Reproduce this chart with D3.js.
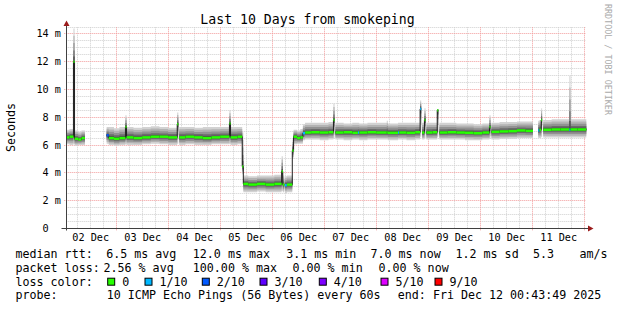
<!DOCTYPE html>
<html><head><meta charset="utf-8">
<script src="https://cdn.jsdelivr.net/npm/d3@7"></script>
<style>
html,body{margin:0;padding:0;background:#fff;}
svg{display:block;font-family:"DejaVu Sans Mono",monospace;}
text{white-space:pre;}
</style></head><body>
<svg id="chart" width="617" height="310"></svg>
<script>
// ---------- data ----------
const title = "Last 10 Days from smokeping";
const yAxisTitle = "Seconds";
const watermark = "RRDTOOL / TOBI OETIKER";
const startTime = new Date(2025, 11, 2, 0, 43, 49);
const endTime = new Date(2025, 11, 12, 0, 43, 49);

const yTickValues = [0, 2, 4, 6, 8, 10, 12, 14];
const yTickLabels = ["0", "2 m", "4 m", "6 m", "8 m", "10 m", "12 m", "14 m"];
const xTickDays = [2, 3, 4, 5, 6, 7, 8, 9, 10, 11];
const xTickLabels = ["02 Dec", "03 Dec", "04 Dec", "05 Dec", "06 Dec", "07 Dec", "08 Dec", "09 Dec", "10 Dec", "11 Dec"];

// samples: hours after start, median rtt (ms), smoke low / high (ms), loss (tenths)
const sampleHours = [
  0, 1.5, 3.3, 3.8, 5.5, 7.0, 8.6,
  18.6, 19.6, 22, 24.5, 27.3, 27.8, 31, 35, 39, 43, 47, 51.2,
  51.7, 52.1, 55, 59, 63, 67, 71, 75.3, 75.8, 79, 81.2, 81.7,
  84, 88, 92, 96, 99.4, 99.9, 100.6, 100.9, 101.8, 104.3, 104.9, 106.5, 108, 109.2, 110.2,
  113, 117, 121, 123.3, 123.8, 124.2, 128, 132, 134.6, 135.2, 139, 143, 147.9, 148.4,
  153.1, 153.6, 157, 161, 163.3, 163.8, 164.2, 165.3, 165.8, 166.2, 169, 171.2, 171.7, 172.2,
  176, 180, 184, 188, 192, 195.3, 195.8, 196.2, 200, 204, 208, 212,
  215.4, 217.8, 218.4, 219.2, 219.6, 220.1, 224, 228, 232.2, 232.7, 236
];
const medianMs = [
  6.55, 6.6, 12.0, 6.45, 6.4, 6.5, null,
  6.7, 6.5, 6.45, 6.5, 7.3, 6.55, 6.5, 6.55, 6.6, 6.6, 6.55, 7.5,
  null, 6.55, 6.6, 6.55, 6.5, 6.55, 6.6, 7.55, 6.55, 6.6, 4.45, 3.2,
  3.15, 3.2, 3.15, 3.2, 4.1, 3.15, null, 3.1, 3.15, 5.6, 6.6, 6.5, 6.55, 6.85, 6.9,
  6.92, 6.9, 6.92, 7.8, null, 6.9, 6.92, 6.88, 6.9, 6.9, 6.92, 6.9, 6.9, 6.88,
  6.9, 6.9, 6.88, 6.92, 8.6, null, 6.9, 7.8, null, 6.9, 6.92, 8.5, null, 6.9,
  6.92, 6.9, 6.88, 6.85, 6.9, 7.3, null, 6.95, 6.98, 7.0, 7.05, 7.02,
  null, 7.05, 7.1, 7.8, null, 7.1, 7.12, 7.12, 7.1, 7.12, 7.12
];
const smokeLowMs = [
  6.05, 6.0, 6.1, 5.95, 6.0, 6.0, null,
  6.1, 6.0, 5.95, 6.0, 6.05, 6.0, 6.0, 6.05, 6.1, 6.05, 6.0, 6.1,
  null, 6.0, 6.05, 6.0, 6.0, 6.05, 6.05, 6.1, 6.0, 6.05, 3.9, 2.6,
  2.6, 2.65, 2.6, 2.6, 2.7, 2.6, null, 2.55, 2.6, 5.0, 6.05, 6.1, 6.1, 6.35, 6.4,
  6.4, 6.35, 6.4, 6.45, null, 6.4, 6.35, 6.4, 6.4, 6.35, 6.4, 6.4, 6.4, 6.35,
  6.4, 6.4, 6.35, 6.4, 6.6, null, 6.4, 6.5, null, 6.4, 6.4, 6.6, null, 6.4,
  6.4, 6.4, 6.35, 6.35, 6.4, 6.45, null, 6.4, 6.45, 6.45, 6.5, 6.5,
  null, 6.5, 6.5, 6.6, null, 6.55, 6.55, 6.55, 6.55, 6.55, 6.55
];
const smokeHighMs = [
  7.1, 7.15, 14.4, 7.05, 6.95, 7.05, null,
  7.3, 7.3, 7.2, 7.3, 8.15, 7.3, 7.25, 7.3, 7.35, 7.3, 7.25, 8.35,
  null, 7.3, 7.3, 7.25, 7.3, 7.3, 7.3, 8.5, 7.3, 7.3, 6.9, 3.8,
  3.75, 3.8, 3.8, 3.85, 5.2, 3.8, null, 3.75, 3.8, 6.4, 7.1, 7.05, 7.15, 7.5, 7.6,
  7.6, 7.6, 7.65, 9.0, null, 7.6, 7.55, 7.6, 7.6, 7.55, 7.6, 7.6, 7.75, 7.55,
  7.6, 7.6, 7.6, 7.6, 9.2, null, 7.6, 8.65, null, 7.6, 7.6, 8.6, null, 7.6,
  7.6, 7.55, 7.55, 7.5, 7.55, 8.15, null, 7.6, 7.65, 7.65, 7.7, 7.7,
  null, 7.75, 7.8, 8.65, null, 7.8, 7.85, 7.85, 11.0, 7.85, 7.85
];
const lossTenths = [
  0, 0, 0, 0, 0, 0, 0,
  2, 0, 0, 0, 0, 0, 0, 0, 0, 0, 0, 0,
  0, 0, 0, 0, 0, 0, 0, 0, 0, 0, 0, 0,
  0, 0, 0, 0, 0, 0, 0, 1, 0, 0, 0, 0, 0, 1, 0,
  0, 0, 0, 0, 0, 0, 0, 0, 1, 0, 0, 0, 0, 0,
  1, 0, 0, 0, 1, 0, 0, 0, 0, 0, 0, 0, 0, 0,
  0, 0, 0, 0, 0, 0, 0, 0, 0, 0, 0, 0,
  0, 1, 0, 0, 0, 0, 0, 0, 1, 0, 0
];

const lossLevels = [0, 1, 2, 3, 4, 5, 9];
const lossLabels = ["0", "1/10", "2/10", "3/10", "4/10", "5/10", "9/10"];
const lossColors = ["#26ff00", "#00b8ff", "#0059ff", "#5e00ff", "#7e00ff", "#dd00ff", "#ff0000"];

const rttLabels = ["6.5 ms avg", "12.0 ms max", "3.1 ms min", "7.0 ms now", "1.2 ms sd", "5.3", "am/s"];
const lossStatLabels = ["2.56 % avg", "100.00 % max", "0.00 % min", "0.00 % now"];
const probeText = "10 ICMP Echo Pings (56 Bytes) every 60s";
const endText = "end: Fri Dec 12 00:43:49 2025";

// ---------- drawing ----------
const svg = d3.select("#chart");
svg.append("rect").attr("width", 617).attr("height", 310).attr("fill", "#fff");

const x = d3.scaleTime().domain([startTime, endTime]).range([66.3, 586.3]);
const y = d3.scaleLinear().domain([0, 14.5]).range([228.3, 27.05]);
const snap = v => Math.floor(v) + 0.5;
const hDate = h => new Date(+startTime + h * 3600e3);
const x0 = x.range()[0], x1 = x.range()[1], yTop = y.range()[1], yBot = y.range()[0];

// grid
const grid = svg.append("g").attr("stroke-width", 1).attr("stroke-dasharray", "1,1").attr("fill", "none");
const minorY = d3.range(0.5, 14.51, 0.5).filter(v => v % 2 !== 0);
grid.selectAll(".mhy").data(minorY).join("line")
  .attr("x1", x0).attr("x2", x1).attr("y1", d => snap(y(d))).attr("y2", d => snap(y(d)))
  .attr("stroke", "#cfcfcf");
const minorX = d3.timeHour.every(6).range(startTime, endTime).filter(d => d.getHours() !== 0);
grid.selectAll(".mvx").data(minorX).join("line")
  .attr("x1", d => snap(x(d))).attr("x2", d => snap(x(d))).attr("y1", yBot).attr("y2", yTop)
  .attr("stroke", "#cfcfcf");
grid.selectAll(".Mhy").data(yTickValues.filter(v => v > 0)).join("line")
  .attr("x1", x0 - 2).attr("x2", x1).attr("y1", d => snap(y(d))).attr("y2", d => snap(y(d)))
  .attr("stroke", "#f29b9b");
const majorX = d3.timeDay.range(startTime, endTime);
grid.selectAll(".Mvx").data(majorX).join("line")
  .attr("x1", d => snap(x(d))).attr("x2", d => snap(x(d))).attr("y1", yBot + 2).attr("y2", yTop)
  .attr("stroke", "#f29b9b");

// build runs of consecutive defined samples (each sample holds until the next one)
const runs = [];
let cur = null;
sampleHours.forEach((h, i) => {
  if (medianMs[i] == null) { cur = null; return; }
  const hEnd = i + 1 < sampleHours.length ? sampleHours[i + 1] : 240;
  const rec = { i, t0: hDate(h), t1: hDate(hEnd), med: medianMs[i], lo: smokeLowMs[i], hi: smokeHighMs[i], loss: lossTenths[i] };
  if (!cur) { cur = []; runs.push(cur); }
  cur.push(rec);
});
const stepPts = run => run.flatMap(r => [{ t: r.t0, r }, { t: r.t1, r }]);

// smoke layers
const layerFrac = [1, 0.78, 0.56, 0.34, 0.16];
const layerColor = ["#d2d2d2", "#b3b3b3", "#929292", "#6c6c6c", "#444444"];
const smoke = svg.append("g");
layerFrac.forEach((f, k) => {
  const area = d3.area()
    .x(d => x(d.t))
    .y0(d => y(d.r.med - f * (d.r.med - d.r.lo)))
    .y1(d => y(d.r.med + f * (d.r.hi - d.r.med)));
  smoke.selectAll(".L" + k).data(runs).join("path")
    .attr("d", run => area(stepPts(run))).attr("fill", layerColor[k]);
});

// median line
const medLine = d3.line().x(d => x(d.t)).y(d => y(d.r.med));
svg.append("g").selectAll("path").data(runs).join("path")
  .attr("d", run => medLine(stepPts(run)))
  .attr("fill", "none").attr("stroke", "#202020").attr("stroke-width", 1);

// loss-coloured median marks
const allRecs = runs.flat();
svg.append("g").selectAll("rect").data(allRecs).join("rect")
  .attr("x", d => x(d.t0)).attr("width", d => Math.max(0.8, x(d.t1) - x(d.t0)))
  .attr("y", d => y(d.med) - 1.25).attr("height", 2.5)
  .attr("fill", d => lossColors[lossLevels.indexOf(d.loss)]);

// axes
const ax = svg.append("g").attr("stroke", "#404040").attr("stroke-width", 1);
ax.append("line").attr("x1", snap(x0)).attr("x2", snap(x0)).attr("y1", snap(yBot) + 2).attr("y2", 24);
ax.append("line").attr("x1", snap(x0) - 5).attr("x2", 589).attr("y1", snap(yBot)).attr("y2", snap(yBot));
svg.append("path").attr("fill", "#9b1c1c")
  .attr("d", `M${snap(x0) - 3},26 L${snap(x0) + 3},26 L${snap(x0)},20.5 Z`);
svg.append("path").attr("fill", "#9b1c1c")
  .attr("d", `M588,${snap(yBot) - 3} L588,${snap(yBot) + 3} L593.5,${snap(yBot)} Z`);

// y tick labels
svg.append("g").selectAll("text").data(yTickValues).join("text")
  .attr("x", 61).attr("y", d => snap(y(d)) + 3.6)
  .attr("text-anchor", "end").attr("font-size", "10.2px").attr("fill", "#000")
  .text((d, i) => yTickLabels[i].includes(" ") ? yTickLabels[i] : yTickLabels[i] + "  ");

// x tick labels (centered at noon)
svg.append("g").selectAll("text").data(xTickDays).join("text")
  .attr("x", d => x(new Date(2025, 11, d, 12, 0, 0))).attr("y", 241)
  .attr("text-anchor", "middle").attr("font-size", "10.2px").attr("fill", "#000")
  .text((d, i) => xTickLabels[i]);

// title
svg.append("text").attr("x", 307.5).attr("y", 24).attr("text-anchor", "middle")
  .attr("font-size", "13.2px").attr("fill", "#000").text(title);

// y axis title
svg.append("text").attr("transform", "translate(15,127.5) rotate(-90)")
  .attr("text-anchor", "middle").attr("font-size", "11.67px").attr("fill", "#000").text(yAxisTitle);

// watermark
svg.append("text").attr("transform", "translate(604.5,4) rotate(90)")
  .attr("font-size", "8.4px").attr("fill", "#aaaaaa").text(watermark);

// legend
const leg = svg.append("g").attr("font-size", "11.67px").attr("fill", "#000");
const row = [258.3, 271.9, 285.5, 299.1];
leg.append("text").attr("x", 15.5).attr("y", row[0]).text("median rtt:");
const rttX = [106.2, 192.8, 286.2, 370.5, 455.5, 533, 579.5];
rttLabels.forEach((t, i) => leg.append("text").attr("x", rttX[i]).attr("y", row[0]).text(t));
leg.append("text").attr("x", 15.5).attr("y", row[1]).text("packet loss:");
const lossX = [103.5, 192.8, 292.5, 378.5];
lossStatLabels.forEach((t, i) => leg.append("text").attr("x", lossX[i]).attr("y", row[1]).text(t));
leg.append("text").attr("x", 15.5).attr("y", row[2]).text("loss color:");
const lossLabX = [122.2, 159.5, 216.8, 274.5, 333.8, 395.5, 449.5];
lossLabels.forEach((t, i) => {
  leg.append("rect").attr("x", lossLabX[i] - 14.5).attr("y", row[2] - 7.3).attr("width", 7).attr("height", 7)
    .attr("fill", lossColors[i]).attr("stroke", "#000").attr("stroke-width", 1);
  leg.append("text").attr("x", lossLabX[i]).attr("y", row[2]).text(t);
});
leg.append("text").attr("x", 15.5).attr("y", row[3]).text("probe:");
leg.append("text").attr("x", 106.8).attr("y", row[3]).text(probeText);
leg.append("text").attr("x", 397.8).attr("y", row[3]).text(endText);
</script>
</body></html>
